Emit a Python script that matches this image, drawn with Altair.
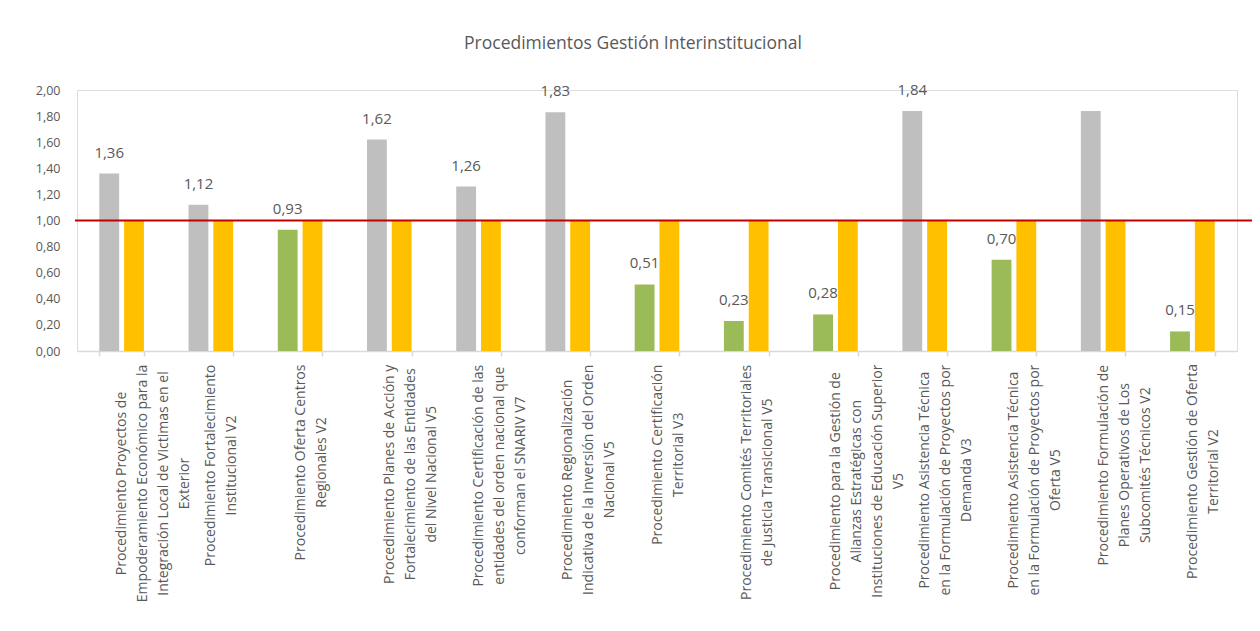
import json
import altair as alt
import pandas as pd

# ---------------- data ----------------
categorias = [
    "Procedimiento Proyectos de|Empoderamiento Económico para la|Integración Local de Victimas en el|Exterior",
    "Procedimiento Fortalecimiento|Institucional V2",
    "Procedimiento Oferta Centros|Regionales V2",
    "Procedimiento Planes de Acción y|Fortalecimiento de las Entidades|del Nivel Nacional V5",
    "Procedimiento Certificación de las|entidades del orden nacional que|conforman el SNARIV V7",
    "Procedimiento Regionalización|Indicativa de la Inversión del Orden|Nacional V5",
    "Procedimiento Certificación|Territorial V3",
    "Procedimiento Comités Territoriales|de Justicia Transicional V5",
    "Procedimiento para la Gestión de|Alianzas Estratégicas con|Instituciones de Educación Superior|V5",
    "Procedimiento Asistencia Técnica|en la Formulación de Proyectos por|Demanda V3",
    "Procedimiento Asistencia Técnica|en la Formulación de Proyectos por|Oferta V5",
    "Procedimiento Formulación de|Planes Operativos de Los|Subcomités Técnicos V2",
    "Procedimiento Gestión de Oferta|Territorial V2",
]
resultado = [1.36, 1.12, 0.93, 1.62, 1.26, 1.83, 0.51, 0.23, 0.28, 1.84, 0.70, 1.84, 0.15]
meta = [1.00, 1.00, 1.00, 1.00, 1.00, 1.00, 1.00, 1.00, 1.00, 1.00, 1.00, 1.00, 1.00]
mostrar_etiqueta = [True, True, True, True, True, True, True, True, True, True, True, False, True]
linea_meta = [1.00]
y_ticks = [0.0, 0.2, 0.4, 0.6, 0.8, 1.0, 1.2, 1.4, 1.6, 1.8, 2.0]
titulo = "Procedimientos Gestión Interinstitucional"

FONT = "Open Sans"
TXT = "#595959"
W, H = 1160, 261
LABEL_SIZE = 14

rows = []
for c, r, m, s in zip(categorias, resultado, meta, mostrar_etiqueta):
    rows.append({"cat": c, "serie": "Resultado", "valor": r,
                 "estado": "Cumple" if r >= 1 else "No cumple",
                 "etiqueta": f"{r:.2f}".replace(".", ",") if s else ""})
    rows.append({"cat": c, "serie": "Meta", "valor": m, "estado": "Meta", "etiqueta": ""})
rows.append({"cat": categorias[0], "serie": "Linea", "valor": linea_meta[0], "estado": "Linea", "etiqueta": ""})
df = pd.DataFrame(rows)

# approximate Open Sans advance widths (em) used to centre the wrapped axis labels
_w = {"a": .556, "b": .613, "c": .48, "d": .613, "e": .561, "f": .336, "g": .546, "h": .613,
      "i": .258, "j": .258, "k": .529, "l": .258, "m": .932, "n": .613, "o": .601, "p": .613,
      "q": .613, "r": .408, "s": .477, "t": .353, "u": .613, "v": .499, "w": .774, "x": .523,
      "y": .5, "z": .469, " ": .26, "I": .279, "E": .556, "S": .549, "N": .725, "A": .633,
      "T": .556, "C": .632, "V": .585, "D": .72, "O": .78, "R": .618, "L": .521, "P": .603,
      "F": .532, "é": .561, "ó": .601, "í": .258, ",": .258, ".": .268}


def est_width(s, size=LABEL_SIZE):
    return sum(_w.get(ch, 0.572 if ch.isdigit() else (0.63 if ch.isupper() else 0.56)) for ch in s) * size


conds = []
for c in categorias:
    longest = max(est_width(l) for l in c.split("|"))
    conds.append({"test": f"datum.value === {json.dumps(c)}", "value": round(8 + longest / 2, 1)})
pad_expr = {"condition": conds, "value": 110}

x_axis = alt.Axis(
    title=None, labelAngle=270, labelAlign="center", labelBaseline="middle",
    labelExpr="split(datum.label, '|')", labelLineHeight=21,
    labelPadding=pad_expr, labelLimit=0, labelOverlap=False, labelBound=False,
    labelFont=FONT, labelFontSize=LABEL_SIZE, labelColor=TXT,
    tickBand="extent", ticks=True, tickSize=5, tickColor="#D9D9D9", tickWidth=1.5,
    domainColor="#D9D9D9", domainWidth=1.5, grid=False,
)
y_axis = alt.Axis(
    title=None, values=y_ticks, tickCount=11,
    labelExpr="replace(format(datum.value, '.2f'), '.', ',')",
    labelFont=FONT, labelFontSize=12.5, labelColor=TXT, labelPadding=17,
    labelOverlap=False, labelBound=False,
    ticks=False, tickSize=0, domain=False, grid=False,
)
x_enc = alt.X("cat:N", sort=categorias, axis=x_axis,
              scale=alt.Scale(paddingInner=0.5, paddingOuter=0.25))
xoff = alt.XOffset("serie:N", sort=["Resultado", "Meta"],
                   scale=alt.Scale(domain=["Resultado", "Meta"], paddingInner=0.2, paddingOuter=0))
y_enc = alt.Y("valor:Q", axis=y_axis, scale=alt.Scale(domain=[0, 2], nice=False))

base = alt.Chart(df)
bars = base.transform_filter("datum.serie !== 'Linea'").mark_bar().encode(
    x=x_enc, xOffset=xoff, y=y_enc,
    color=alt.Color("estado:N",
                    scale=alt.Scale(domain=["Cumple", "No cumple", "Meta"],
                                    range=["#BFBFBF", "#9BBB59", "#FFC000"]),
                    legend=None),
)
labels = base.transform_filter("datum.serie !== 'Linea'").mark_text(
    font=FONT, fontSize=15, color=TXT, baseline="middle", dy=-21
).encode(x=x_enc, xOffset=xoff, y=y_enc, text="etiqueta:N")
regla = base.transform_filter("datum.serie === 'Linea'").mark_rule(
    color="#C00000", strokeWidth=2
).encode(y=y_enc, x=alt.value(-2), x2=alt.value(W + 17))

chart = alt.layer(bars, labels, regla).properties(
    width=W, height=H,
    title=alt.Title(titulo, font=FONT, fontSize=17.5, fontWeight="normal", color=TXT,
                    anchor="middle", offset=30, dx=-24),
    autosize=alt.AutoSizeParams(type="none"),
    padding={"left": 69, "top": 82, "right": 15, "bottom": 262},
).configure_view(stroke=None).configure(background="white")

chart.save("out.html", embed_options={"renderer": "svg", "actions": False})
